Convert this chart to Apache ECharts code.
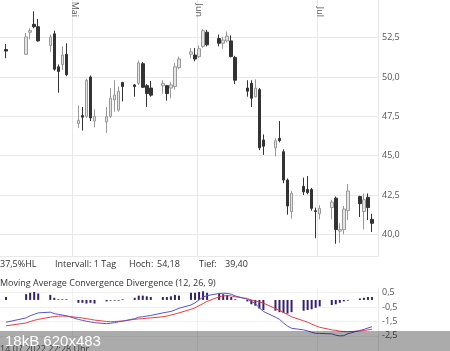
<!DOCTYPE html>
<html>
<head>
<meta charset="utf-8">
<script src="https://cdn.jsdelivr.net/npm/echarts@6.0.0/dist/echarts.min.js"></script>
<style>
  html, body { margin: 0; padding: 0; background: #fff; }
  #chart { width: 450px; height: 351px; }
</style>
</head>
<body>
<div id="chart"></div>
<script>
// trading days shown (calendar axis runs from firstDay to lastDay)
const firstDay = '2022-04-13';
const lastDay = '2022-07-15';
const dates = [
  '2022-04-14','2022-04-19','2022-04-20','2022-04-21','2022-04-22','2022-04-25','2022-04-26','2022-04-27','2022-04-28','2022-04-29',
  '2022-05-02','2022-05-03','2022-05-04','2022-05-05','2022-05-06','2022-05-09','2022-05-10','2022-05-11','2022-05-12','2022-05-13',
  '2022-05-16','2022-05-17','2022-05-18','2022-05-19','2022-05-20','2022-05-23','2022-05-24','2022-05-25','2022-05-26','2022-05-27',
  '2022-05-30','2022-05-31',
  '2022-06-01','2022-06-02','2022-06-03','2022-06-06','2022-06-07','2022-06-08','2022-06-09','2022-06-10','2022-06-13','2022-06-14',
  '2022-06-15','2022-06-16','2022-06-17','2022-06-20','2022-06-21','2022-06-22','2022-06-23','2022-06-24','2022-06-27','2022-06-28',
  '2022-06-29','2022-06-30',
  '2022-07-01','2022-07-04','2022-07-05','2022-07-06','2022-07-07','2022-07-08','2022-07-11','2022-07-12','2022-07-13','2022-07-14'
];
const open = [
  51.75, 51.45, 52.85, 53.35, 53.2, 52.0, 52.75, 50.65, 50.8, 51.45,
  47.05, 47.55, 47.5, 50.0, 47.2, 47.15, 47.5, 48.55, 47.9, 49.65,
  49.5, 49.6, 50.85, 49.45, 49.3, 49.45, 49.45, 49.3, 49.4, 50.6,
  51.45, 51.4,
  51.3, 51.95, 52.85, 52.45, 52.15, 52.3, 52.3, 51.25, 49.3, 49.6,
  48.75, 49.2, 46.0, 45.5, 46.1, 45.25, 43.45, 41.45, 43.05, 42.85,
  42.85, 41.5,
  41.3, 41.7, 42.3, 40.2, 40.3, 41.5, 42.4, 41.45, 42.35, 40.95
];
const close = [
  51.65, 52.55, 52.95, 53.2, 52.3, 52.55, 50.5, 50.35, 51.4, 50.15,
  47.25, 47.45, 49.8, 47.4, 47.5, 47.5, 48.65, 48.85, 49.1, 49.4,
  49.4, 50.9, 49.35, 48.95, 48.85, 49.6, 48.95, 49.5, 50.65, 51.15,
  51.6, 51.15,
  51.8, 52.95, 52.05, 52.15, 52.35, 52.6, 51.3, 49.8, 49.1, 48.65,
  49.3, 45.5, 45.6, 45.95, 45.95, 43.45, 41.8, 42.6, 42.7, 42.65,
  41.65, 41.45,
  41.65, 42.05, 40.3, 40.3, 41.6, 42.75, 41.95, 42.2, 41.7, 40.7
];
const low = [
  51.2, 51.4, 52.4, 53.1, 52.25, 51.6, 50.4, 49.0, 50.45, 50.05,
  46.75, 46.6, 47.4, 47.2, 46.8, 46.45, 47.4, 47.8, 47.8, 48.45,
  48.75, 49.5, 49.3, 48.1, 48.75, 48.95, 48.5, 48.65, 49.2, 50.5,
  51.2, 51.0,
  51.2, 51.85, 51.95, 51.95, 51.8, 52.2, 51.25, 49.55, 48.75, 48.1,
  48.7, 45.35, 45.05, 44.95, 45.85, 43.25, 41.25, 41.0, 42.5, 42.55,
  41.5, 39.75,
  40.95, 40.95, 39.4, 39.45, 40.0, 40.9, 41.1, 40.3, 40.9, 40.15
];
const high = [
  52.1, 52.8, 53.1, 54.18, 53.7, 52.7, 52.95, 50.8, 51.95, 52.15,
  48.2, 48.1, 49.9, 50.1, 47.95, 48.1, 49.3, 49.8, 49.4, 49.7,
  49.55, 51.05, 50.95, 49.55, 49.75, 49.8, 49.5, 49.7, 50.9, 51.3,
  51.85, 51.85,
  52.0, 53.05, 53.0, 52.7, 52.55, 52.9, 52.65, 51.35, 49.8, 49.8,
  49.85, 49.3, 46.35, 46.1, 47.2, 45.4, 43.55, 42.75, 43.6, 43.7,
  42.95, 41.7,
  41.85, 42.2, 42.4, 40.7, 41.8, 43.2, 42.45, 42.6, 42.6, 41.3
];
// MACD (12, 26, 9)
const macdHist = [
  0.2, 0.4, 0.5, 0.55, 0.45, 0.35, 0.15, 0.05, 0.05, 0.05,
  -0.2, -0.2, -0.25, -0.2, -0.25, -0.1, -0.05, -0.05, -0.05, 0.05,
  0.15, 0.3, 0.3, 0.25, 0.2, 0.2, 0.2, 0.25, 0.35, 0.3,
  0.5, 0.5,
  0.55, 0.6, 0.5, 0.45, 0.4, 0.35, 0.2, 0.05, -0.1, -0.3,
  -0.4, -0.6, -0.7, -0.75, -0.85, -0.9, -0.95, -0.85, -0.75, -0.7,
  -0.65, -0.55,
  -0.45, -0.35, -0.3, -0.2, -0.1, -0.05, 0.1, 0.15, 0.2, 0.2
];
const macdLine = [
  -1.55, -1.25, -1.1, -1.0, -0.9, -0.85, -0.95, -1.0, -1.05, -1.1,
  -1.35, -1.42, -1.48, -1.53, -1.58, -1.65, -1.62, -1.58, -1.52, -1.48,
  -1.3, -1.2, -1.17, -1.12, -1.08, -0.9, -0.85, -0.8, -0.7, -0.58,
  -0.35, -0.2,
  0.0, 0.2, 0.3, 0.45, 0.47, 0.45, 0.4, 0.28, 0.05, -0.1,
  -0.25, -0.55, -0.8, -1.2, -1.35, -1.6, -1.82, -1.97, -2.08, -2.15,
  -2.25, -2.32,
  -2.33, -2.36, -2.45, -2.5, -2.48, -2.35, -2.12, -2.05, -1.95, -1.86
];
const signalLine = [
  -1.8, -1.6, -1.5, -1.42, -1.35, -1.2, -1.15, -1.13, -1.12, -1.13,
  -1.22, -1.26, -1.3, -1.35, -1.4, -1.5, -1.52, -1.5, -1.48, -1.46,
  -1.35, -1.32, -1.3, -1.27, -1.25, -1.17, -1.12, -1.05, -0.98, -0.9,
  -0.65, -0.55,
  -0.4, -0.25, -0.1, 0.22, 0.28, 0.3, 0.28, 0.22, 0.1, 0.0,
  -0.08, -0.15, -0.22, -0.6, -0.72, -0.88, -1.02, -1.17, -1.45, -1.55,
  -1.68, -1.8,
  -1.9, -2.08, -2.12, -2.17, -2.2, -2.21, -2.15, -2.12, -2.08, -2.04
];
const priceTicks = [40, 42.5, 45, 47.5, 50, 52.5];
const macdTicks = [0.5, -0.5, -1.5, -2.5];
const monthNames = ['Jan','Feb','Mär','Apr','Mai','Jun','Jul','Aug','Sep','Okt','Nov','Dez'];

// calendar days for the category axis
const days = [];
for (let t = Date.parse(firstDay + 'T00:00:00Z'); t <= Date.parse(lastDay + 'T00:00:00Z'); t += 86400000) {
  days.push(new Date(t).toISOString().slice(0, 10));
}
const pos = {};
dates.forEach(function (d, i) { pos[d] = i; });
function pick(arr) {
  return days.map(function (d) { return pos[d] == null ? '-' : arr[pos[d]]; });
}
const candles = days.map(function (d) {
  const i = pos[d];
  return i == null ? ['-', '-', '-', '-'] : [open[i], close[i], low[i], high[i]];
});
const isMonthStart = function (i, v) { return v.slice(8) === '01'; };
const comma = function (v) { return v.toFixed(1).replace('.', ','); };

const font = 'Open Sans';
const gridColor = '#e8e8e8';

const chart = echarts.init(document.getElementById('chart'));
chart.setOption({
  animation: false,
  backgroundColor: '#fff',
  textStyle: { fontFamily: font },
  grid: [
    { left: 0, top: 0, width: 378, height: 256, containLabel: false, outerBoundsMode: 'none' },
    { left: 0, top: 288, width: 378, height: 63, containLabel: false, outerBoundsMode: 'none' }
  ],
  xAxis: [
    {
      // month names, drawn just above an axis line moved down into the plot
      type: 'category', gridIndex: 0, data: days, position: 'top', offset: -19,
      axisLine: { show: false }, axisTick: { show: false },
      axisLabel: {
        rotate: 90, interval: isMonthStart, margin: 2, padding: [11, 0, 0, 0],
        color: '#555', fontSize: 9, fontFamily: font,
        formatter: function (v) { return monthNames[+v.slice(5, 7) - 1]; }
      },
      splitLine: { show: true, interval: isMonthStart, lineStyle: { color: gridColor } }
    },
    {
      type: 'category', gridIndex: 0, data: days, position: 'bottom',
      axisLine: { show: true, lineStyle: { color: gridColor } },
      axisTick: { show: false }, axisLabel: { show: false }
    },
    {
      type: 'category', gridIndex: 1, data: days,
      axisLine: { show: false }, axisTick: { show: false }, axisLabel: { show: false },
      splitLine: { show: true, interval: isMonthStart, lineStyle: { color: '#f0f0f0' } }
    }
  ],
  yAxis: [
    {
      type: 'value', gridIndex: 0, position: 'right', min: 38.62, max: 54.9,
      axisLine: { show: true, lineStyle: { color: gridColor } },
      axisTick: { show: false, customValues: priceTicks },
      axisLabel: { customValues: priceTicks, formatter: comma, color: '#555', fontSize: 9, margin: 4 },
      splitLine: { show: true, lineStyle: { color: gridColor } }
    },
    {
      type: 'value', gridIndex: 1, position: 'right', min: -3.55, max: 0.83,
      axisLine: { show: true, lineStyle: { color: gridColor } },
      axisTick: { show: false, customValues: macdTicks },
      axisLabel: { customValues: macdTicks, formatter: comma, color: '#555', fontSize: 9, margin: 4 },
      splitLine: { show: true, lineStyle: { color: '#f0f0f0' } }
    }
  ],
  series: [
    {
      type: 'candlestick', xAxisIndex: 0, yAxisIndex: 0, data: candles,
      barWidth: 3,
      itemStyle: { color: '#e4e4e4', borderColor: '#999', color0: '#333', borderColor0: '#333', borderWidth: 1 }
    },
    {
      type: 'bar', xAxisIndex: 2, yAxisIndex: 1, data: pick(macdHist),
      barWidth: 2, itemStyle: { color: '#34206f' }
    },
    {
      type: 'line', xAxisIndex: 2, yAxisIndex: 1, data: pick(signalLine),
      connectNulls: true, showSymbol: false, lineStyle: { color: '#e8403c', width: 1 }
    },
    {
      type: 'line', xAxisIndex: 2, yAxisIndex: 1, data: pick(macdLine),
      connectNulls: true, showSymbol: false, lineStyle: { color: '#5a52d0', width: 1 }
    }
  ],
  graphic: [
    { type: 'text', left: 0, top: 260, style: { text: '37,5%HL', fill: '#333', font: '9px "Open Sans"' } },
    { type: 'text', left: 55, top: 260, style: { text: 'Intervall: 1 Tag', fill: '#333', font: '9px "Open Sans"' } },
    { type: 'text', left: 129, top: 260, style: { text: 'Hoch:', fill: '#333', font: '9px "Open Sans"' } },
    { type: 'text', left: 157, top: 260, style: { text: '54,18', fill: '#333', font: '9px "Open Sans"' } },
    { type: 'text', left: 199, top: 260, style: { text: 'Tief:', fill: '#333', font: '9px "Open Sans"' } },
    { type: 'text', left: 225, top: 260, style: { text: '39,40', fill: '#333', font: '9px "Open Sans"' } },
    { type: 'text', left: 0, top: 279, style: { text: 'Moving Average Convergence Divergence (12, 26, 9)', fill: '#333', font: '9px "Open Sans"' } },
    { type: 'text', left: 0, top: 345, style: { text: '14.07.2022 22:28 Uhr', fill: '#555', font: '9px "Open Sans"' } },
    { type: 'rect', left: 0, top: 331, z: 100, shape: { width: 450, height: 20 }, style: { fill: 'rgba(0,0,0,0.33)' } },
    { type: 'text', left: 5, top: 334, z: 101, style: { text: '18kB 620x483', fill: '#fff', font: '15px "Liberation Sans"' } }
  ]
});
</script>
</body>
</html>
